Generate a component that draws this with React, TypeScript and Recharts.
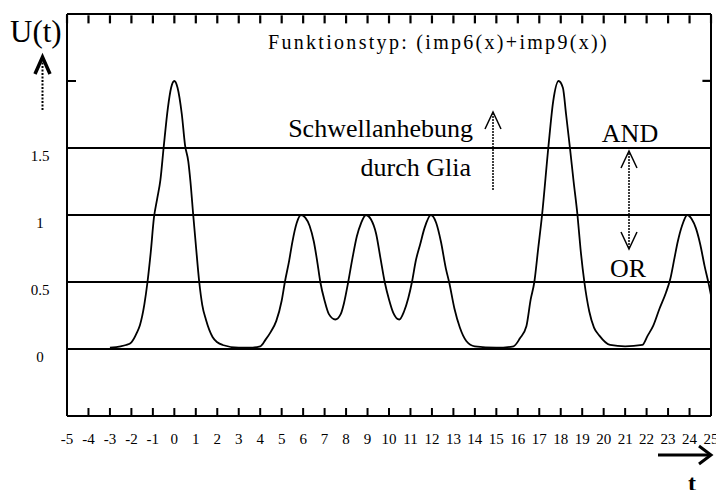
import { LineChart, Line, XAxis, YAxis, ReferenceLine } from "recharts";

/* ── Daten ────────────────────────────────────────────── */
const tValues = [
	-3, -2.5, -2.25, -2, -1.75, -1.6, -1.4, -1.25, -1.1, -0.95, -0.8, -0.65, -0.5,
	-0.3, -0.15, 0, 0.15, 0.35, 0.5, 0.65, 0.75, 0.88, 1, 1.16, 1.3, 1.47, 1.78, 2,
	2.25, 3, 3.5, 4, 4.25, 4.5, 4.75, 5, 5.15, 5.35, 5.5, 5.7, 5.9, 6.1, 6.3, 6.5,
	6.65, 6.8, 7, 7.2, 7.5, 7.75, 7.9, 8.1, 8.3, 8.5, 8.7, 8.93, 9.15, 9.4, 9.6,
	9.8, 10, 10.2, 10.48, 10.7, 10.9, 11.07, 11.25, 11.45, 11.65, 11.95, 12.2,
	12.42, 12.65, 12.8, 13.05, 13.3, 13.6, 14, 15, 15.8, 16.1, 16.4, 16.6, 16.77,
	16.95, 17.13, 17.42, 17.65, 17.9, 18.1, 18.25, 18.43, 18.6, 18.78, 18.92, 19.1,
	19.33, 19.55, 19.8, 20.3, 21, 21.8, 22.05, 22.3, 22.6, 22.9, 23.1, 23.3, 23.45,
	23.65, 23.9, 24.1, 24.3, 24.5, 24.7, 24.9, 25,
];
const uValues = [
	0.01, 0.02, 0.03, 0.05, 0.12, 0.18, 0.33, 0.5, 0.72, 0.98, 1.12, 1.26, 1.5,
	1.8, 1.95, 2.0, 1.95, 1.75, 1.52, 1.4, 1.25, 1.0, 0.78, 0.5, 0.33, 0.22, 0.09,
	0.05, 0.03, 0.01, 0.01, 0.02, 0.07, 0.13, 0.21, 0.36, 0.5, 0.66, 0.8, 0.94,
	1.0, 0.98, 0.92, 0.8, 0.66, 0.5, 0.36, 0.26, 0.22, 0.26, 0.34, 0.5, 0.68, 0.84,
	0.94, 1.0, 0.97, 0.86, 0.68, 0.5, 0.37, 0.27, 0.22, 0.28, 0.38, 0.5, 0.66,
	0.78, 0.9, 1.0, 0.94, 0.8, 0.6, 0.5, 0.3, 0.16, 0.06, 0.02, 0.01, 0.02, 0.08,
	0.17, 0.37, 0.5, 0.75, 1.0, 1.5, 1.85, 2.0, 1.95, 1.75, 1.5, 1.25, 1.0, 0.75,
	0.5, 0.28, 0.16, 0.1, 0.03, 0.02, 0.03, 0.1, 0.17, 0.3, 0.42, 0.52, 0.68, 0.8,
	0.92, 1.0, 0.97, 0.9, 0.78, 0.62, 0.48, 0.4,
];
const xTicks = [
	-5, -4, -3, -2, -1, 0, 1, 2, 3, 4, 5, 6, 7, 8, 9, 10, 11, 12, 13, 14, 15, 16,
	17, 18, 19, 20, 21, 22, 23, 24, 25,
];
const yTicks = [0, 0.5, 1, 1.5, 2];
const thresholds = [0, 0.5, 1, 1.5];

const data = tValues.map((t, i) => ({ t, u: uValues[i] }));

const X_MIN = -5;
const X_MAX = 25;
const Y_MIN = -0.5;
const Y_MAX = 2.5;

const FONT = "'Liberation Serif', 'Times New Roman', serif";
const txt = { fontFamily: FONT };

/* ── Ticks ───────────────────────────────────────────── */
function BottomTick({ x, y, payload }: any) {
	return (
		<g>
			<line x1={x} x2={x} y1={y} y2={y - 8} stroke="#000" strokeWidth={2} />
			<text x={x} y={y + 28} textAnchor="middle" fontSize={15} style={txt} fill="#000">
				{payload.value}
			</text>
		</g>
	);
}

function LeftTick({ x, y, payload }: any) {
	if (payload.value === 2)
		return <line x1={x} x2={x + 9} y1={y} y2={y} stroke="#000" strokeWidth={2} />;
	return (
		<text x={x - 27} y={y + 13} textAnchor="middle" fontSize={15} style={txt} fill="#000">
			{payload.value}
		</text>
	);
}

const axisLine = { stroke: "#000", strokeWidth: 2 };

export default function App() {
	return (
		<div style={{ position: "absolute", left: 0, top: 0, width: 716, height: 490, background: "#fff" }}>
			<svg
				width={716}
				height={490}
				style={{ position: "absolute", left: 0, top: 0, pointerEvents: "none" }}
			>
				<text x={10} y={42} fontSize={31} style={txt} fill="#000">
					U(t)
				</text>
				<line x1={42.5} x2={42.5} y1={110} y2={62} stroke="#000" strokeWidth={2} strokeDasharray="2 1.5" />
				<polyline points="35,74 42.5,57 50,74" fill="none" stroke="#000" strokeWidth={3.5} />

				<text x={268} y={49} fontSize={20} letterSpacing={2.3} style={txt} fill="#000">
					Funktionstyp: (imp6(x)+imp9(x))
				</text>

				<text x={473} y={137} fontSize={26} textAnchor="end" style={txt} fill="#000">
					Schwellanhebung
				</text>
				<text x={471} y={176} fontSize={26} textAnchor="end" style={txt} fill="#000">
					durch Glia
				</text>
				<line x1={493} x2={493} y1={190} y2={114} stroke="#000" strokeWidth={1.5} strokeDasharray="2 1" />
				<polyline points="485,129 493,112 501,129" fill="none" stroke="#000" strokeWidth={1.5} />

				<text x={630} y={142} fontSize={26} textAnchor="middle" style={txt} fill="#000">
					AND
				</text>
				<line x1={629} x2={629} y1={153} y2={247} stroke="#000" strokeWidth={1.5} strokeDasharray="2 1" />
				<polyline points="621,168 629,151 637,168" fill="none" stroke="#000" strokeWidth={1.5} />
				<polyline points="621,232 629,249 637,232" fill="none" stroke="#000" strokeWidth={1.5} />
				<text x={628} y={277} fontSize={26} textAnchor="middle" style={txt} fill="#000">
					OR
				</text>

				<line x1={658} x2={709} y1={455} y2={455} stroke="#000" strokeWidth={3} />
				<polyline points="699,446 711,455 699,464" fill="none" stroke="#000" strokeWidth={3} />
				<text x={692} y={491} fontSize={24} fontWeight="bold" textAnchor="middle" style={txt} fill="#000">
					t
				</text>
			</svg>

			<LineChart
				width={716}
				height={490}
				data={data}
				margin={{ top: 14, right: 5, bottom: 44, left: 7 }}
			>
				<XAxis
					dataKey="t"
					type="number"
					domain={[X_MIN, X_MAX]}
					ticks={xTicks}
					interval={0}
					height={30}
					tickSize={0}
					tickMargin={0}
					tickLine={false}
					axisLine={axisLine}
					tick={<BottomTick />}
				/>
				<YAxis
					type="number"
					domain={[Y_MIN, Y_MAX]}
					ticks={yTicks}
					interval={0}
					width={60}
					tickSize={0}
					tickMargin={0}
					tickLine={false}
					axisLine={axisLine}
					tick={<LeftTick />}
				/>
				{/* Striche am oberen Rand */}
				{xTicks.map((t) => (
					<ReferenceLine
						key={"top" + t}
						segment={[
							{ x: t + 0.001, y: 2.49 },
							{ x: t + 0.001, y: 2.43 },
						]}
						stroke="#000"
						strokeWidth={2.2}
						ifOverflow="visible"
					/>
				))}
				{/* Strich rechts bei 2 */}
				<ReferenceLine
					segment={[
						{ x: 24.99, y: 2.001 },
						{ x: 24.6, y: 2.001 },
					]}
					stroke="#000"
					strokeWidth={2.2}
					ifOverflow="visible"
				/>
				{/* Rahmen oben und rechts */}
				<ReferenceLine y={Y_MAX} stroke="#000" strokeWidth={2} ifOverflow="visible" />
				<ReferenceLine x={X_MAX} stroke="#000" strokeWidth={2} ifOverflow="visible" />
				{thresholds.map((v) => (
					<ReferenceLine key={"thr" + v} y={v} stroke="#000" strokeWidth={2} />
				))}
				<Line
					type="monotone"
					dataKey="u"
					stroke="#000"
					strokeWidth={1.8}
					dot={false}
					isAnimationActive={false}
				/>
			</LineChart>
		</div>
	);
}
